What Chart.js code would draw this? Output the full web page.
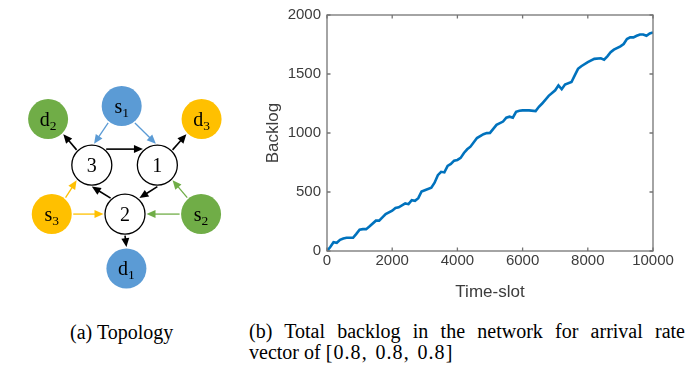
<!DOCTYPE html>
<html><head><meta charset="utf-8">
<script src="https://cdn.jsdelivr.net/npm/chart.js@4.4.0/dist/chart.umd.min.js"></script>
<style>
html,body{margin:0;padding:0;background:#fff;}
body{width:696px;height:366px;position:relative;overflow:hidden;}
#topo{position:absolute;left:0;top:0;}
#line{position:absolute;left:250px;top:0;}
.cap{position:absolute;font-family:"Liberation Serif","Times New Roman",serif;font-size:20px;line-height:20.7px;color:#000;}
#capA{left:0;width:243.4px;top:321.6px;text-align:center;white-space:nowrap;}
#capB1{left:249px;width:436px;top:320.9px;text-align:justify;text-align-last:justify;}
#capB2{left:249px;top:341.6px;white-space:nowrap;}
#capB2 .m{letter-spacing:1.1px;word-spacing:1.5px;}
</style></head>
<body>
<canvas id="topo" width="250" height="310"></canvas>
<canvas id="line" width="446" height="310"></canvas>
<div class="cap" id="capA">(a) Topology</div>
<div class="cap" id="capB1">(b) Total backlog in the network for arrival rate</div>
<div class="cap" id="capB2">vector of <span class="m">[0.8, 0.8, 0.8]</span></div>
<script>
// ---------- data: right panel ----------
const timeSlots = [0,100,200,300,400,500,600,800,900,1000,1100,1200,1300,1500,1600,1700,1800,2000,2100,2200,2400,2500,2600,2700,2800,2900,3000,3200,3300,3400,3500,3600,3700,3800,3900,4000,4100,4200,4300,4400,4600,4800,4900,5000,5100,5200,5400,5500,5600,5700,5800,5900,6000,6200,6400,6500,6600,6800,7000,7100,7200,7300,7500,7600,7700,7800,8000,8200,8400,8500,8600,8700,8800,9000,9100,9200,9300,9400,9500,9600,9700,9800,9900,10000];
const backlog = [0,34,75,70,95,106,112,112,145,180,185,185,207,257,257,285,313,341,364,370,403,397,431,425,448,504,515,537,579,643,671,666,722,738,766,772,789,831,862,884,957,990,999,1001,1035,1069,1097,1130,1138,1130,1180,1189,1192,1192,1186,1222,1250,1315,1362,1404,1371,1410,1432,1488,1544,1566,1600,1628,1633,1622,1650,1684,1706,1734,1754,1796,1810,1810,1824,1835,1835,1824,1843,1852];
const xTicks = [0,2000,4000,6000,8000,10000];
const yTicks = [0,500,1000,1500,2000];

// ---------- data: left panel (topology) ----------
const nodeLabel = ['1','2','3','s','s','s','d','d','d'];
const nodeSub   = ['','','','1','2','3','1','2','3'];
const nodeFlow  = [0,0,0,1,2,3,1,2,3];      // 0 = relay node, k = flow k
const nodeX = [16.4, 12.5, 8.5, 12.1, 21.67, 3.67, 12.67, 3.23, 21.73];
const nodeY = [16.67, 22.35, 16.67, 9.83, 22.35, 22.35, 28.67, 11.33, 11.33];
const edgeFrom = [3,3,2,2,0,0,1,1,5,5,4,4];
const edgeTo   = [2,0,0,7,8,1,2,6,2,1,0,1];
const edgeFlow = [1,1,0,0,0,0,0,0,3,3,2,2];

// ---------- layout / style ----------
const edgePortFrom = [129,52,-48,-135,-45,90,-132,90,-50,0,-130,180];
const edgePortTo   = [-84,-94,-132,45,135,-48,90,-90,135,180,45,0];
const flowFill = ['#ffffff','#5B9BD5','#70AD47','#FFC000'];
const flowEdge = ['#000000','#5B9BD5','#70AD47','#FFC000'];
const NODE_R = 20, PORT = 21.5, HEAD = 9, HW = 4;

const topoPlugin = {
  id: 'topoDraw',
  beforeDatasetsDraw(chart){
    const {ctx, scales:{x, y}} = chart;
    ctx.save();
    edgeFrom.forEach((f, i) => {
      const t = edgeTo[i];
      const fx = x.getPixelForValue(nodeX[f]), fy = y.getPixelForValue(nodeY[f]);
      const tx = x.getPixelForValue(nodeX[t]), ty = y.getPixelForValue(nodeY[t]);
      const a1 = edgePortFrom[i]*Math.PI/180, a2 = edgePortTo[i]*Math.PI/180;
      const sx = fx + PORT*Math.cos(a1), sy = fy + PORT*Math.sin(a1);
      const ex = tx + PORT*Math.cos(a2), ey = ty + PORT*Math.sin(a2);
      const ang = Math.atan2(ey - sy, ex - sx);
      const col = flowEdge[edgeFlow[i]];
      ctx.strokeStyle = col; ctx.fillStyle = col;
      ctx.lineWidth = edgeFlow[i] === 0 ? 1.6 : 1.3;
      const bx = ex - HEAD*Math.cos(ang), by = ey - HEAD*Math.sin(ang);
      ctx.beginPath(); ctx.moveTo(sx, sy); ctx.lineTo(bx + Math.cos(ang), by + Math.sin(ang)); ctx.stroke();
      ctx.beginPath(); ctx.moveTo(ex, ey);
      ctx.lineTo(bx + HW*Math.sin(ang), by - HW*Math.cos(ang));
      ctx.lineTo(bx - HW*Math.sin(ang), by + HW*Math.cos(ang));
      ctx.closePath(); ctx.fill();
    });
    ctx.restore();
  },
  afterDatasetsDraw(chart){
    const {ctx, scales:{x, y}} = chart;
    ctx.save();
    ctx.fillStyle = '#000';
    ctx.textBaseline = 'alphabetic';
    ctx.textAlign = 'left';
    nodeLabel.forEach((lab, i) => {
      const cx = x.getPixelForValue(nodeX[i]), cy = y.getPixelForValue(nodeY[i]);
      ctx.font = '20px "Liberation Serif", "Times New Roman", serif';
      const wm = ctx.measureText(lab).width;
      ctx.font = '13.5px "Liberation Serif", "Times New Roman", serif';
      const ws = nodeSub[i] ? ctx.measureText(nodeSub[i]).width : 0;
      const x0 = cx - (wm + ws)/2;
      ctx.font = '20px "Liberation Serif", "Times New Roman", serif';
      ctx.fillText(lab, x0, cy + 6.5);
      if (nodeSub[i]) {
        ctx.font = '13.5px "Liberation Serif", "Times New Roman", serif';
        ctx.fillText(nodeSub[i], x0 + wm, cy + 10.5);
      }
    });
    ctx.restore();
  }
};

new Chart(document.getElementById('topo'), {
  type: 'scatter',
  data: { datasets: [{
    data: nodeX.map((v, i) => ({x: v, y: nodeY[i]})),
    pointRadius: NODE_R,
    pointBackgroundColor: nodeFlow.map(f => flowFill[f]),
    pointBorderColor: nodeFlow.map(f => f === 0 ? '#000' : flowFill[f]),
    pointBorderWidth: nodeFlow.map(f => f === 0 ? 1.3 : 0),
    clip: false
  }]},
  options: {
    responsive: false, devicePixelRatio: 1, animation: false, events: [],
    layout: { padding: 0 },
    plugins: { legend: {display: false}, tooltip: {enabled: false} },
    scales: {
      x: { type: 'linear', min: 0, max: 25, display: false },
      y: { type: 'linear', min: 0, max: 31, reverse: true, display: false }
    }
  },
  plugins: [topoPlugin]
});

// ---------- right panel ----------
const TICK_LEN = 3.5;
const boxPlugin = {
  id: 'matlabBox',
  afterDatasetsDraw(chart){
    const {ctx, chartArea: a, scales:{x, y}} = chart;
    ctx.save();
    ctx.strokeStyle = '#747474';
    ctx.lineWidth = 1.3;
    ctx.beginPath();
    x.ticks.forEach(t => {
      const px = x.getPixelForValue(t.value);
      ctx.moveTo(px, a.bottom); ctx.lineTo(px, a.bottom - TICK_LEN);
      ctx.moveTo(px, a.top); ctx.lineTo(px, a.top + TICK_LEN);
    });
    y.ticks.forEach(t => {
      const py = y.getPixelForValue(t.value);
      ctx.moveTo(a.left, py); ctx.lineTo(a.left + TICK_LEN, py);
      ctx.moveTo(a.right, py); ctx.lineTo(a.right - TICK_LEN, py);
    });
    ctx.stroke();
    ctx.strokeRect(a.left, a.top, a.right - a.left, a.bottom - a.top);
    ctx.restore();
  }
};

const tickFont = { family: '"Liberation Sans", Arial, sans-serif', size: 15 };
const titleFont = { family: '"Liberation Sans", Arial, sans-serif', size: 17 };
const txtCol = '#3c3c3c';

new Chart(document.getElementById('line'), {
  type: 'line',
  data: { datasets: [{
    data: timeSlots.map((t, i) => ({x: t, y: backlog[i]})),
    borderColor: '#0072BD', borderWidth: 2.6, pointRadius: 0, tension: 0, fill: false
  }]},
  options: {
    responsive: false, devicePixelRatio: 1, animation: false, events: [],
    layout: { padding: { left: 0, right: 43, top: 12, bottom: 0 } },
    plugins: { legend: {display: false}, tooltip: {enabled: false} },
    scales: {
      x: {
        type: 'linear', min: 0, max: 10000,
        afterBuildTicks: s => { s.ticks = xTicks.map(v => ({value: v})); },
        grid: { display: false, drawTicks: false }, border: { display: false },
        ticks: { font: tickFont, color: txtCol, padding: 1, maxRotation: 0, autoSkip: false, callback: v => String(v) },
        title: { display: true, text: 'Time-slot', font: titleFont, color: txtCol, padding: {top: 4, bottom: 7} },
        afterFit: s => { s.height = 59; }
      },
      y: {
        type: 'linear', min: 0, max: 2000,
        afterBuildTicks: s => { s.ticks = yTicks.map(v => ({value: v})); },
        grid: { display: false, drawTicks: false }, border: { display: false },
        ticks: { font: tickFont, color: txtCol, padding: 6, autoSkip: false, callback: v => String(v) },
        title: { display: true, text: 'Backlog', font: titleFont, color: txtCol, padding: {top: 13, bottom: 4} },
        afterFit: s => { s.width = 77; }
      }
    }
  },
  plugins: [boxPlugin]
});
</script>
</body></html>
